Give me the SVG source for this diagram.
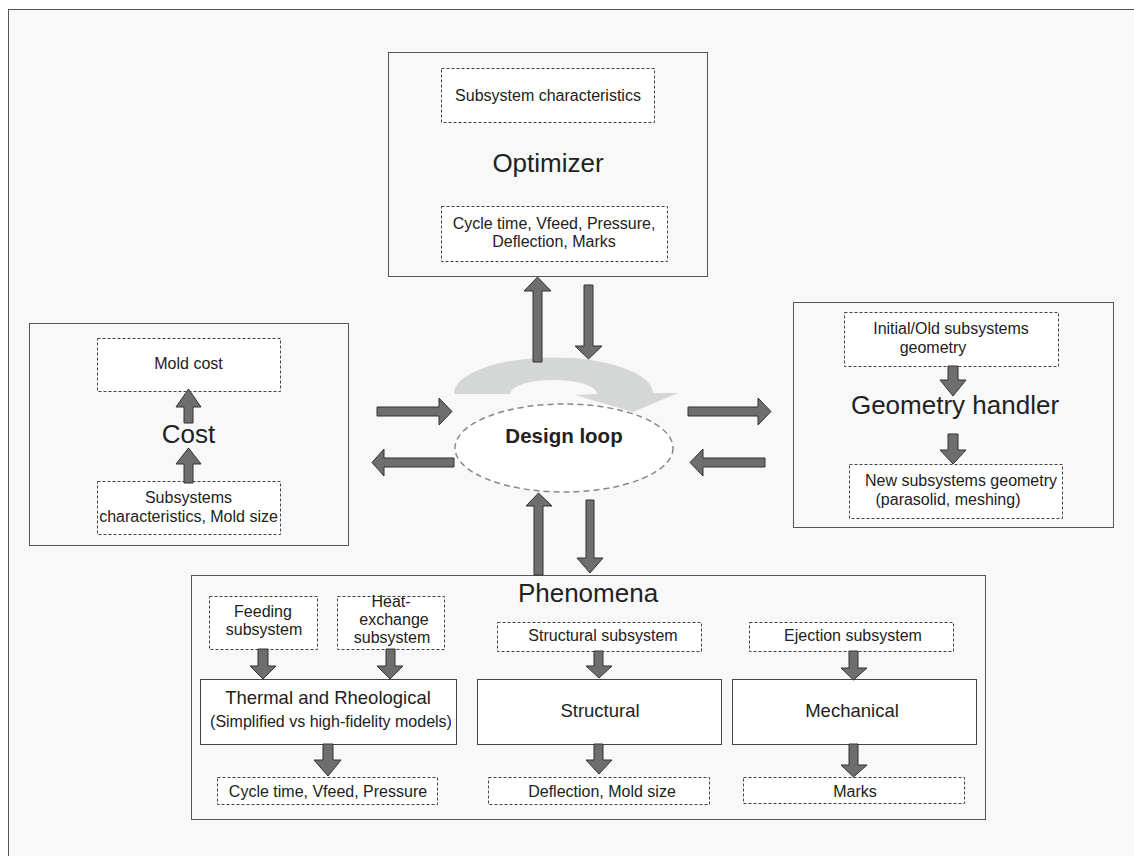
<svg xmlns="http://www.w3.org/2000/svg" width="1134" height="856" viewBox="0 0 1134 856">
<style>
text{font-family:"Liberation Sans",Arial,sans-serif;fill:#222;text-anchor:middle}
.t{font-size:26px}
.s{font-size:16px}
.m{font-size:18.5px}
.b{font-size:20.5px;font-weight:bold}
.box{fill:#f8f8f8;stroke:#555;stroke-width:1}
.wbox{fill:#fff;stroke:#444;stroke-width:1}
.dash{fill:#fff;stroke:#444;stroke-width:1;stroke-dasharray:3,2}
.arr{fill:#6e6e6e;stroke:#333;stroke-width:1;stroke-linejoin:miter}
</style>
<rect x="0" y="0" width="1134" height="856" fill="#fff"/>
<rect x="8.5" y="9.5" width="1140" height="860" fill="#f8f8f8" stroke="#555" stroke-width="1"/>

<g id="loop-arrow">
<path d="M454,394 A99.5,36 0 0 1 653,393 L678,393 L633,412 L575,395 L597,394 A43.5,14 0 0 0 510,394 Z" fill="#d5d7d7"/>
</g>

<g id="optimizer">
<rect class="box" x="388.5" y="52.5" width="319" height="224"/>
<rect class="dash" x="441.5" y="68.5" width="213" height="54"/>
<text class="s" x="548" y="101">Subsystem characteristics</text>
<text class="t" x="548" y="172">Optimizer</text>
<rect class="dash" x="441.5" y="206.5" width="226" height="55"/>
<text class="s" x="554" y="229">Cycle time, Vfeed, Pressure,</text>
<text class="s" x="554" y="247">Deflection, Marks</text>
</g>

<g id="cost">
<rect class="box" x="29.5" y="323.5" width="319" height="222"/>
<rect class="dash" x="97.5" y="338.5" width="183" height="53"/>
<text class="s" x="188.5" y="369">Mold cost</text>
<text class="t" x="188.5" y="443">Cost</text>
<rect class="dash" x="97.5" y="481.5" width="183" height="53"/>
<text class="s" x="188.5" y="503">Subsystems</text>
<text class="s" x="188.5" y="522">characteristics, Mold size</text>
<polygon class="arr" points="184,423 184,407 176,407 188.5,389 201,407 193,407 193,423"/>
<polygon class="arr" points="184,483 184,464 176,464 188.5,448 201,464 193,464 193,483"/>
</g>

<g id="geometry">
<rect class="box" x="793.5" y="302.5" width="320" height="225"/>
<rect class="dash" x="844.5" y="312.5" width="214" height="54"/>
<text class="s" x="951" y="334">Initial/Old subsystems</text>
<text class="s" x="933" y="353">geometry</text>
<text class="t" x="955" y="414">Geometry handler</text>
<rect class="dash" x="849.5" y="464.5" width="213" height="54"/>
<text class="s" x="961" y="486">New subsystems geometry</text>
<text class="s" x="948" y="505">(parasolid, meshing)</text>
<polygon class="arr" points="948,366 948,380 940,380 953,396 966,380 958,380 958,366"/>
<polygon class="arr" points="948,434 948,450 940,450 953,464 966,450 958,450 958,434"/>
</g>

<g id="design-loop">
<ellipse cx="564" cy="448" rx="109" ry="44" fill="#fff" stroke="#888" stroke-width="1.5" stroke-dasharray="6,4"/>
<text class="b" x="564" y="443">Design loop</text>
</g>

<g id="phenomena">
<rect class="box" x="191.5" y="575.5" width="794" height="244"/>
<text class="t" x="588" y="602">Phenomena</text>
<rect class="dash" x="209.5" y="596.5" width="108" height="53"/>
<text class="s" x="263" y="617">Feeding</text>
<text class="s" x="264" y="635">subsystem</text>
<rect class="dash" x="337.5" y="596.5" width="107" height="53"/>
<text class="s" x="391" y="607">Heat-</text>
<text class="s" x="394" y="625">exchange</text>
<text class="s" x="392" y="643">subsystem</text>
<rect class="wbox" x="200.5" y="679.5" width="256" height="65"/>
<text class="m" x="328" y="704">Thermal and Rheological</text>
<text class="s" x="331" y="727">(Simplified vs high-fidelity models)</text>
<rect class="dash" x="217.5" y="777.5" width="220" height="27"/>
<text class="s" x="328" y="797">Cycle time, Vfeed, Pressure</text>
<polygon class="arr" points="258,649 258,666 250,666 263,679 276,666 268,666 268,649"/>
<polygon class="arr" points="386,649 386,666 377,666 390,679 403,666 395,666 395,649"/>
<polygon class="arr" points="323,744 323,760 314,760 328,776 341,760 333,760 333,744"/>

<rect class="dash" x="497.5" y="622.5" width="204" height="29"/>
<text class="s" x="603" y="641">Structural subsystem</text>
<rect class="wbox" x="477.5" y="679.5" width="244" height="65"/>
<text class="m" x="600" y="717">Structural</text>
<rect class="dash" x="488.5" y="777.5" width="221" height="27"/>
<text class="s" x="602" y="797">Deflection, Mold size</text>
<polygon class="arr" points="594,651 594,666 586,666 599,678 612,666 603,666 603,651"/>
<polygon class="arr" points="594,744 594,760 586,760 599,774 612,760 603,760 603,744"/>

<rect class="dash" x="749.5" y="622.5" width="204" height="29"/>
<text class="s" x="853" y="641">Ejection subsystem</text>
<rect class="wbox" x="732.5" y="679.5" width="244" height="65"/>
<text class="m" x="852" y="717">Mechanical</text>
<rect class="dash" x="743.5" y="777.5" width="221" height="26"/>
<text class="s" x="855" y="797">Marks</text>
<polygon class="arr" points="849,651 849,668 841,668 853.5,680 867,668 858,668 858,651"/>
<polygon class="arr" points="849,744 849,765 841,765 853.5,777 867,765 858,765 858,744"/>
</g>

<g id="connectors">
<polygon class="arr" points="533,362 533,291 524,291 537.5,277 551,291 542,291 542,362"/>
<polygon class="arr" points="584,285 584,346 575,346 588.5,359 602,346 593,346 593,285"/>
<polygon class="arr" points="377,407 439,407 439,398 452,411.5 439,425 439,416 377,416"/>
<polygon class="arr" points="454,458 384,458 384,449 372,462.5 384,476 384,467 454,467"/>
<polygon class="arr" points="688,407 758,407 758,398 771,411.5 758,425 758,416 688,416"/>
<polygon class="arr" points="765,458 703,458 703,449 690,462.5 703,476 703,467 765,467"/>
<polygon class="arr" points="534,575 534,506 526,506 538.5,493 552,506 543,506 543,575"/>
<polygon class="arr" points="586,500 586,558 577,558 590,573 603,558 594,558 594,500"/>
</g>
</svg>
